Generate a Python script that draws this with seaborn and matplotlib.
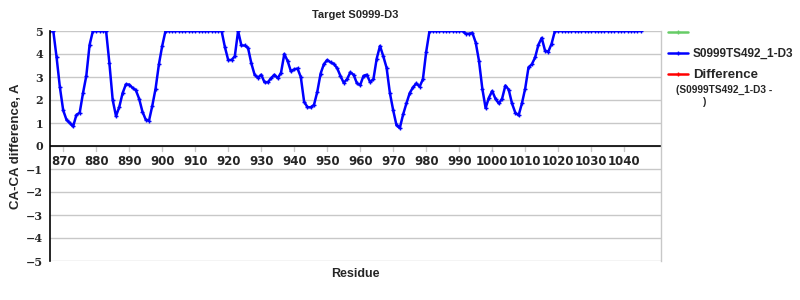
import numpy as np
import pandas as pd
import matplotlib
matplotlib.use("Agg")
import matplotlib.pyplot as plt
import seaborn as sns
from matplotlib.lines import Line2D

residues = list(range(866, 1046))
ca_diff = [
    5.0, 5.0, 3.85, 2.55, 1.55, 1.14, 1.0, 0.85, 1.35, 1.45,          # 866-875
    2.3, 3.05, 4.4, 5.0, 5.0, 5.0, 5.0, 5.0, 3.6, 2.0,               # 876-885
    1.3, 1.7, 2.3, 2.68, 2.67, 2.53, 2.43, 2.06, 1.5, 1.15,          # 886-895
    1.1, 1.75, 2.5, 3.55, 4.35, 5.0, 5.0, 5.0, 5.0, 5.0,             # 896-905
    5.0, 5.0, 5.0, 5.0, 5.0, 5.0, 5.0, 5.0, 5.0, 5.0,                # 906-915
    5.0, 5.0, 5.0, 4.3, 3.74, 3.74, 3.9, 5.0, 4.37, 4.37,            # 916-925
    4.27, 3.6, 3.1, 2.97, 3.1, 2.77, 2.77, 2.95, 3.1, 2.95,          # 926-935
    3.18, 4.0, 3.7, 3.25, 3.33, 3.37, 3.0, 1.93, 1.69, 1.68,         # 936-945
    1.79, 2.36, 3.15, 3.56, 3.74, 3.64, 3.57, 3.39, 3.05, 2.75,      # 946-955
    2.9, 3.2, 3.1, 2.73, 2.65, 3.05, 3.1, 2.78, 2.9, 3.8,            # 956-965
    4.35, 3.9, 3.4, 2.3, 1.55, 0.9, 0.78, 1.37, 1.85, 2.3,           # 966-975
    2.55, 2.72, 2.58, 2.9, 4.1, 5.0, 5.0, 5.0, 5.0, 5.0,             # 976-985
    5.0, 5.0, 5.0, 5.0, 5.0, 5.0, 4.88, 4.88, 4.92, 4.5,             # 986-995
    3.7, 2.5, 1.65, 2.1, 2.39, 2.05, 1.85, 2.06, 2.63, 2.45,         # 996-1005
    1.85, 1.45, 1.33, 1.85, 2.5, 3.42, 3.55, 3.85, 4.4, 4.7,         # 1006-1015
    4.15, 4.1, 4.45, 5.0, 5.0, 5.0, 5.0, 5.0, 5.0, 5.0,              # 1016-1025
    5.0, 5.0, 5.0, 5.0, 5.0, 5.0, 5.0, 5.0, 5.0, 5.0,                # 1026-1035
    5.0, 5.0, 5.0, 5.0, 5.0, 5.0, 5.0, 5.0, 5.0, 5.0,                # 1036-1045
]
x_ticks = list(range(870, 1041, 10))
y_ticks = list(range(-5, 6))
series_label = "S0999TS492_1-D3"
diff_label = "Difference"
diff_sub1 = "(S0999TS492_1-D3 -"
diff_sub2 = ")"
title = "Target S0999-D3"
xlabel = "Residue"
ylabel = "CA-CA difference, A"

df = pd.DataFrame({"Residue": residues, "diff": ca_diff})

sns.set_style("white")
plt.rcParams["font.family"] = ["Liberation Sans", "DejaVu Sans"]

fig = plt.figure(figsize=(8, 3), dpi=100)
ax = fig.add_axes([50 / 800, 1 - 261 / 300, (660.5 - 50) / 800, (261 - 31) / 300])

sns.lineplot(data=df, x="Residue", y="diff", ax=ax, color="#0000ff",
             linewidth=1.8, marker="+", markersize=3.5, markeredgewidth=1.0,
             markeredgecolor="#0000ff")

ax.set_xlim(866, 1051)
ax.set_ylim(-5, 5)
ax.set_yticks(y_ticks)
ax.set_xticks(x_ticks)
ax.yaxis.grid(True, color="#c8c8c8", linewidth=1.0)
ax.xaxis.grid(False)
ax.set_axisbelow(True)

for s in ["top", "bottom"]:
    ax.spines[s].set_visible(False)
ax.spines["right"].set_color("#c8c8c8")
ax.spines["right"].set_linewidth(1.0)
ax.spines["left"].set_color("black")
ax.spines["left"].set_linewidth(1.2)
ax.axhline(0, color="black", linewidth=1.2, zorder=1.5)

# x tick labels sit on the zero line
ax.tick_params(axis="x", which="both", bottom=False, labelbottom=False)
for t in x_ticks:
    ax.plot([t, t], [0, -0.22], color="#c8c8c8", linewidth=1.0, zorder=1)
    ax.text(t, -0.38, str(t), ha="center", va="top", fontsize=8.5,
            fontweight="bold", family=["DejaVu Sans"])

ax.tick_params(axis="y", length=0, pad=5)
ax.set_yticklabels([("\u2212" + str(-v)) if v < 0 else str(v) for v in y_ticks],
                   fontweight="bold", family=["DejaVu Serif"], fontsize=8)

ax.set_xlabel(xlabel, fontsize=9, fontweight="bold", labelpad=0)
ax.xaxis.set_label_coords(0.5, -0.03)
ax.set_ylabel(ylabel, fontsize=9.5, fontweight="bold", labelpad=3)
ax.set_title(title, fontsize=8, fontweight="bold", pad=9)

handles = [
    Line2D([], [], color="#66cc66", linewidth=1.8, marker="+", markersize=3),
    Line2D([], [], color="#0000ff", linewidth=1.8, marker="+", markersize=3),
    Line2D([], [], color="#ff0000", linewidth=1.8, marker="+", markersize=3),
]
leg = fig.legend(handles, ["", series_label, diff_label], loc="upper left",
                 bbox_to_anchor=(668 / 800, 1 - 27 / 300), frameon=False,
                 handlelength=1.7, handletextpad=0.4, labelspacing=0.78,
                 borderaxespad=0, borderpad=0, fontsize=8.5)
for i, t in enumerate(leg.get_texts()):
    t.set_fontweight("bold")
    if i == 2:
        t.set_fontsize(9.5)
fig.text(676 / 800, 1 - 90 / 300, diff_sub1, fontsize=7.3, fontweight="bold",
         va="center", ha="left")
fig.text(703 / 800, 1 - 102 / 300, diff_sub2, fontsize=7.3, fontweight="bold",
         va="center", ha="left")

fig.savefig("out.png", dpi=100)
